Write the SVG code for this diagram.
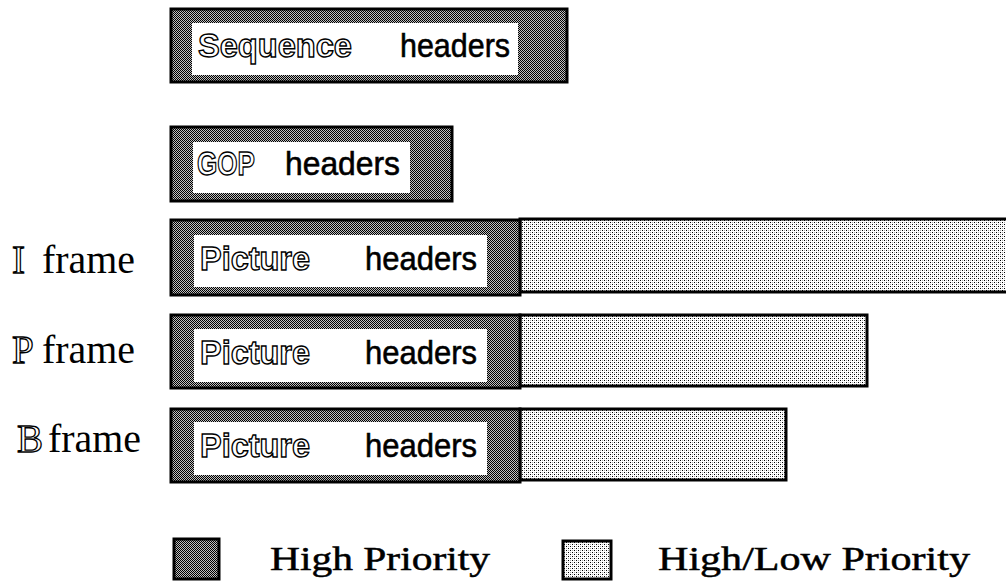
<svg xmlns="http://www.w3.org/2000/svg" width="1006" height="582" viewBox="0 0 1006 582">
<defs>
<pattern id="darkDither" x="0" y="0" width="2" height="2" patternUnits="userSpaceOnUse">
<rect width="2" height="2" fill="#c0c0c0"/>
<rect x="0" y="0" width="1" height="1" fill="#000"/>
<rect x="1" y="1" width="1" height="1" fill="#000"/>
</pattern>
<pattern id="lightDither" x="0" y="0" width="4" height="4" patternUnits="userSpaceOnUse">
<rect width="4" height="4" fill="#fff"/>
<rect x="0" y="0" width="1" height="1" fill="#000"/>
<rect x="2" y="2" width="1" height="1" fill="#000"/>
<rect x="2" y="0" width="1" height="1" fill="#aaa"/>
<rect x="0" y="2" width="1" height="1" fill="#aaa"/>
</pattern>
</defs>
<style>
.dark{fill:url(#darkDither);stroke:#000;stroke-width:3}
.light{fill:url(#lightDither);stroke:#000;stroke-width:3}
.inner{fill:#fff}
.hdr{font-family:"Liberation Sans",Arial,sans-serif;font-size:34px;fill:#000;stroke:#000;stroke-width:0.6}
.outl{font-family:"Liberation Sans",Arial,sans-serif;font-size:34px;font-weight:bold;fill:#fff;stroke:#000;stroke-width:1.4}
.lbl{font-family:"Liberation Serif","Times New Roman",serif;font-size:39px;fill:#000}
.dbl{font-family:"Liberation Serif","Times New Roman",serif;font-size:39px;fill:#fff;stroke:#000;stroke-width:1.3}
.leg{font-family:"Liberation Serif","Times New Roman",serif;font-size:34px;fill:#000;stroke:#000;stroke-width:0.5}
</style>
<rect width="1006" height="582" fill="#fff"/>

<g id="sequence-headers">
<rect class="dark" x="171" y="9" width="396" height="73"/>
<rect class="inner" x="192" y="23" width="326" height="52"/>
<text class="outl" x="198" y="57" textLength="154" lengthAdjust="spacingAndGlyphs">Sequence</text>
<text class="hdr" x="400" y="57" textLength="110" lengthAdjust="spacingAndGlyphs">headers</text>
</g>

<g id="gop-headers">
<rect class="dark" x="171" y="127" width="281" height="74"/>
<rect class="inner" x="193" y="142" width="217" height="51"/>
<text class="outl" x="197" y="175" textLength="58" lengthAdjust="spacingAndGlyphs">GOP</text>
<text class="hdr" x="285" y="175" textLength="115" lengthAdjust="spacingAndGlyphs">headers</text>
</g>

<g id="i-frame">
<text class="dbl" x="12" y="273">I</text>
<text class="lbl" x="42" y="273" textLength="93" lengthAdjust="spacingAndGlyphs">frame</text>
<rect class="light" x="520" y="219" width="492" height="73"/>
<rect class="dark" x="171" y="220" width="349" height="75"/>
<rect class="inner" x="194" y="235" width="293" height="52"/>
<text class="outl" x="200" y="270" textLength="110" lengthAdjust="spacingAndGlyphs">Picture</text>
<text class="hdr" x="365" y="270" textLength="112" lengthAdjust="spacingAndGlyphs">headers</text>
</g>

<g id="p-frame">
<text class="dbl" x="12" y="363">P</text>
<text class="lbl" x="42" y="363" textLength="93" lengthAdjust="spacingAndGlyphs">frame</text>
<rect class="light" x="520" y="315" width="347" height="71"/>
<rect class="dark" x="171" y="315" width="349" height="73"/>
<rect class="inner" x="194" y="329" width="293" height="53"/>
<text class="outl" x="200" y="364" textLength="110" lengthAdjust="spacingAndGlyphs">Picture</text>
<text class="hdr" x="365" y="364" textLength="112" lengthAdjust="spacingAndGlyphs">headers</text>
</g>

<g id="b-frame">
<text class="dbl" x="17" y="452">B</text>
<text class="lbl" x="48" y="452" textLength="93" lengthAdjust="spacingAndGlyphs">frame</text>
<rect class="light" x="520" y="409" width="266" height="71"/>
<rect class="dark" x="171" y="409" width="349" height="73"/>
<rect class="inner" x="194" y="422" width="293" height="53"/>
<text class="outl" x="200" y="457" textLength="110" lengthAdjust="spacingAndGlyphs">Picture</text>
<text class="hdr" x="365" y="457" textLength="112" lengthAdjust="spacingAndGlyphs">headers</text>
</g>

<g id="legend">
<rect class="dark" x="174" y="539" width="45" height="40"/>
<text class="leg" x="270" y="570" textLength="220" lengthAdjust="spacingAndGlyphs">High Priority</text>
<rect class="light" x="563" y="541" width="48" height="38"/>
<text class="leg" x="658" y="570" textLength="312" lengthAdjust="spacingAndGlyphs">High/Low Priority</text>
</g>

<g id="connectors"></g>
</svg>
